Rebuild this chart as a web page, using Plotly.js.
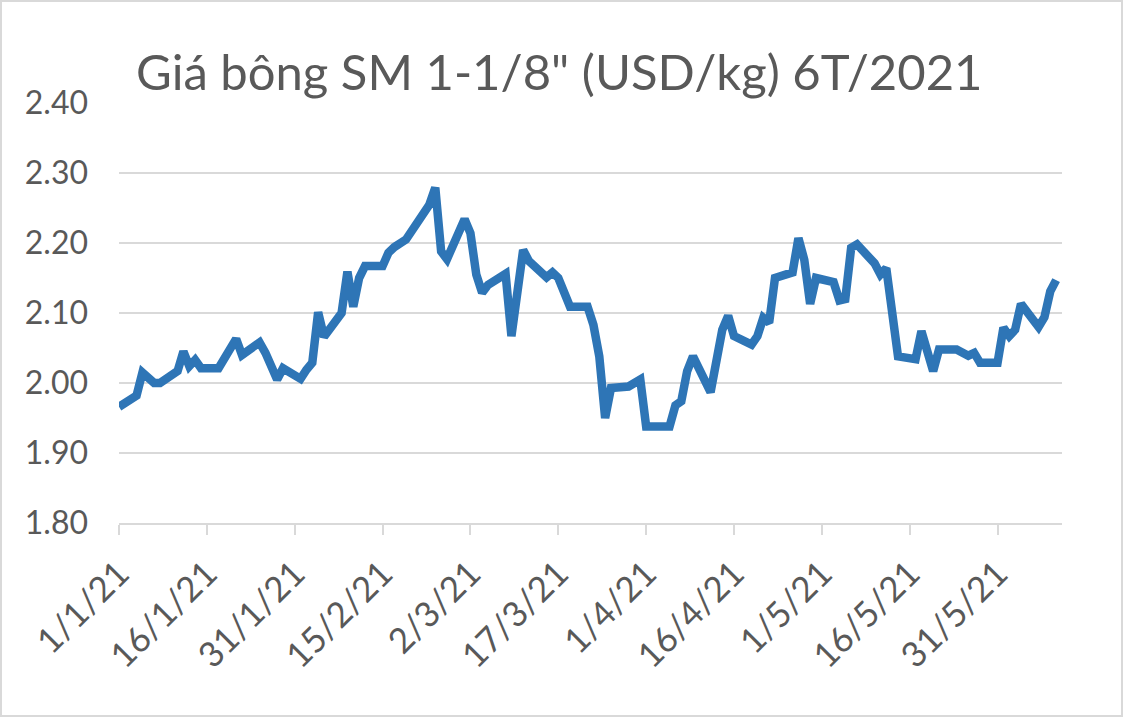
<!DOCTYPE html>
<html>
<head>
<meta charset="utf-8">
<script src="https://cdn.plot.ly/plotly-3.0.1.min.js"></script>
<style>
html,body{margin:0;padding:0;background:#fff;}
#chart{width:1123px;height:717px;box-sizing:border-box;border:2px solid #d9d9d9;}
</style>
</head>
<body>
<div id="chart"></div>
<script>
const dates = [
"2021-01-01","2021-01-04","2021-01-05","2021-01-07","2021-01-08","2021-01-11","2021-01-12","2021-01-13","2021-01-14","2021-01-15",
"2021-01-18","2021-01-19","2021-01-21","2021-01-22","2021-01-25","2021-01-26","2021-01-28","2021-01-29",
"2021-02-01","2021-02-02","2021-02-03","2021-02-04","2021-02-05","2021-02-08","2021-02-09","2021-02-10","2021-02-11","2021-02-12",
"2021-02-15","2021-02-16","2021-02-17","2021-02-19","2021-02-22","2021-02-23","2021-02-24","2021-02-25","2021-02-26",
"2021-03-01","2021-03-02","2021-03-03","2021-03-04","2021-03-05","2021-03-08","2021-03-09","2021-03-11","2021-03-12",
"2021-03-15","2021-03-16","2021-03-17","2021-03-19","2021-03-22","2021-03-23","2021-03-24","2021-03-25","2021-03-26",
"2021-03-29","2021-03-31","2021-04-01","2021-04-05","2021-04-06","2021-04-07","2021-04-08","2021-04-09",
"2021-04-12","2021-04-14","2021-04-15","2021-04-16","2021-04-19","2021-04-20","2021-04-21","2021-04-22","2021-04-23",
"2021-04-26","2021-04-27","2021-04-28","2021-04-29","2021-04-30","2021-05-03","2021-05-04","2021-05-05","2021-05-06","2021-05-07",
"2021-05-10","2021-05-11","2021-05-12","2021-05-13","2021-05-14","2021-05-17","2021-05-18","2021-05-20","2021-05-21",
"2021-05-24","2021-05-26","2021-05-27","2021-05-28","2021-05-31","2021-06-01","2021-06-02","2021-06-03","2021-06-04",
"2021-06-07","2021-06-08","2021-06-09","2021-06-10"
];
const prices = [
1.966,1.982,2.015,2.000,2.000,2.017,2.045,2.024,2.033,2.021,
2.021,2.036,2.063,2.040,2.058,2.043,2.005,2.021,
2.006,2.019,2.029,2.101,2.066,2.100,2.159,2.109,2.150,2.167,
2.167,2.186,2.194,2.205,2.245,2.255,2.279,2.188,2.177,
2.234,2.214,2.155,2.129,2.140,2.156,2.067,2.190,2.174,
2.151,2.158,2.150,2.109,2.109,2.083,2.038,1.950,1.993,
1.995,2.005,1.938,1.938,1.968,1.974,2.017,2.038,
1.987,2.076,2.096,2.067,2.055,2.067,2.093,2.086,2.150,
2.158,2.207,2.176,2.113,2.150,2.144,2.118,2.120,2.193,2.198,
2.171,2.155,2.164,2.098,2.038,2.034,2.074,2.017,2.048,
2.048,2.039,2.043,2.029,2.029,2.079,2.067,2.076,2.113,
2.080,2.094,2.131,2.147
];
const tickDates = ["2021-01-01","2021-01-16","2021-01-31","2021-02-15","2021-03-02","2021-03-17","2021-04-01","2021-04-16","2021-05-01","2021-05-16","2021-05-31"];
const tickLabels = ["1/1/21","16/1/21","31/1/21","15/2/21","2/3/21","17/3/21","1/4/21","16/4/21","1/5/21","16/5/21","31/5/21"];
const yTicks = [1.8,1.9,2.0,2.1,2.2,2.3,2.4];
const yLabels = ["1.80","1.90","2.00","2.10","2.20","2.30","2.40"];
const chartTitle = 'Giá bông SM 1-1/8" (USD/kg) 6T/2021';

const FONT = 'Lato, "Open Sans", sans-serif';
const trace = {
  x: dates, y: prices, type: 'scatter', mode: 'lines',
  line: {color: '#2e75b6', width: 8.5, shape: 'linear'},
  hoverinfo: 'x+y'
};
const layout = {
  width: 1119, height: 713,
  margin: {l: 117, r: 59, t: 101, b: 192},
  paper_bgcolor: '#fff', plot_bgcolor: '#fff',
  font: {family: FONT, color: '#595959'},
  showlegend: false,
  title: {text: chartTitle, font: {family: FONT, size: 49, color: '#595959'},
          x: 0.498, xref: 'container', xanchor: 'center', y: 0.9, yref: 'container', yanchor: 'middle'},
  xaxis: {
    type: 'date', range: ['2021-01-01', '2021-06-11'],
    tickvals: tickDates, ticktext: tickLabels, tickangle: -45,
    tickfont: {family: FONT, size: 35, color: '#595959'},
    showgrid: false, zeroline: false,
    showline: true, linecolor: '#d9d9d9', linewidth: 2,
    ticks: 'outside', ticklen: 10, tickcolor: '#d9d9d9', tickwidth: 2,
    ticklabelstandoff: 4
  },
  yaxis: {
    range: [1.8, 2.4], tickvals: yTicks, ticktext: yLabels,
    tickfont: {family: FONT, size: 32, color: '#595959'},
    showgrid: true, gridcolor: '#d9d9d9', gridwidth: 2,
    zeroline: false, showline: false, ticks: '', ticklabelstandoff: 30
  }
};
Plotly.newPlot('chart', [trace], layout, {displayModeBar: false, staticPlot: true});
</script>
</body>
</html>
